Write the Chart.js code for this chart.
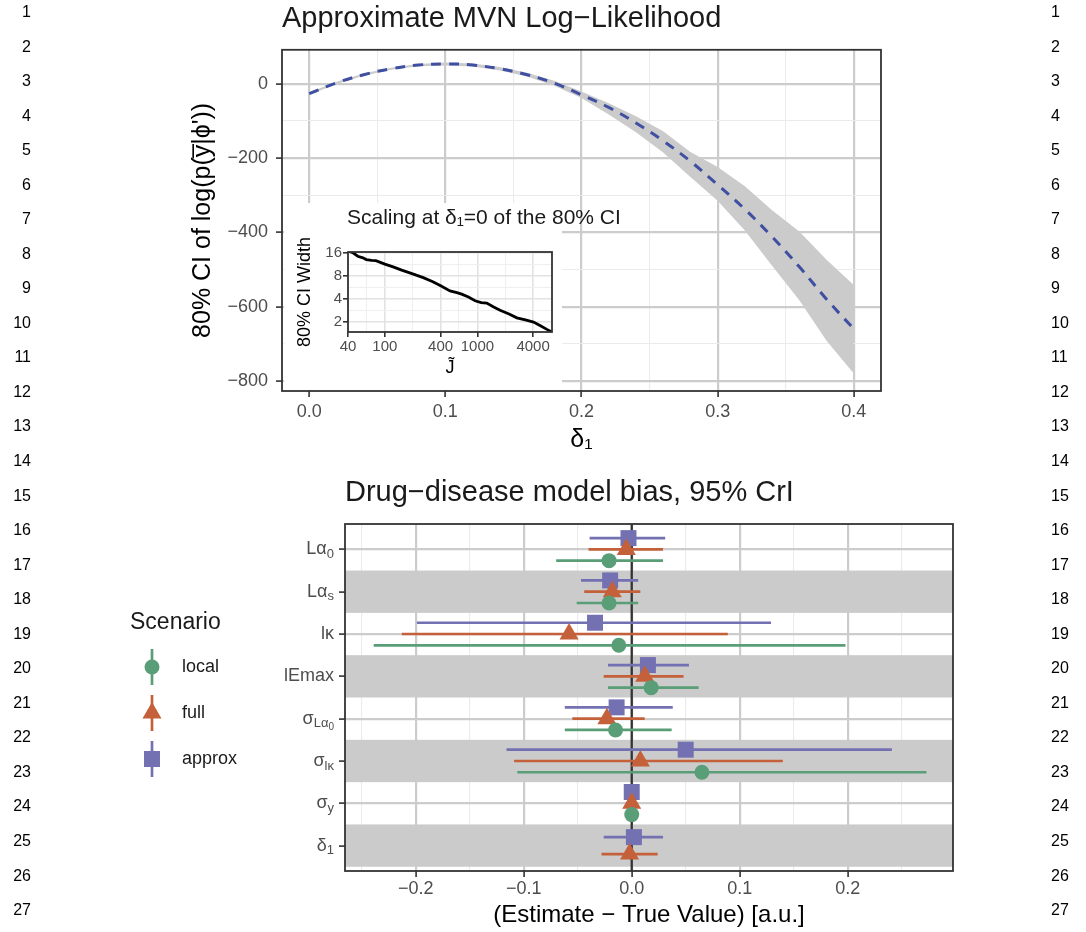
<!DOCTYPE html>
<html>
<head>
<meta charset="utf-8">
<title>MVN log-likelihood and drug-disease model bias</title>
<script src="https://cdn.jsdelivr.net/npm/chart.js@4.4.1/dist/chart.umd.min.js"></script>
<style>
  html, body { margin: 0; padding: 0; background: #ffffff; }
  #page { position: relative; width: 1086px; height: 932px; overflow: hidden; font-family: "Liberation Sans", Arial, Helvetica, sans-serif; }
  .ln { position: absolute; font-size: 16px; line-height: 16px; color: #000000; }
  .ln.left { left: 0; width: 31px; text-align: right; }
  .ln.right { left: 1051px; }
  .wrap { position: absolute; }
  #topWrap { left: 0; top: 0; width: 1086px; height: 460px; }
  #insetWrap { left: 284px; top: 200px; width: 360px; height: 190px; }
  #bottomWrap { left: 0; top: 460px; width: 1086px; height: 472px; }
</style>
</head>
<body>
<div id="page">
  <div id="topWrap" class="wrap"><canvas id="llChart" width="1086" height="460"></canvas></div>
  <div id="insetWrap" class="wrap"><canvas id="insetChart" width="360" height="190"></canvas></div>
  <div id="bottomWrap" class="wrap"><canvas id="biasChart" width="1086" height="472"></canvas></div>
</div>
<script>
'use strict';

// ---- top panel: approximate MVN log-likelihood over delta_1 ----
const deltaGrid = [0, 0.02, 0.04, 0.06, 0.08, 0.1, 0.12, 0.14, 0.16, 0.18, 0.2, 0.22, 0.24, 0.26, 0.28, 0.3, 0.32, 0.34, 0.36, 0.38, 0.4];
const llMean = [-27, 2, 24, 40, 50, 53, 50, 40, 24, 1, -30, -64, -106, -154, -209, -272, -338, -412, -493, -580, -660];
const llUpper = [-24, 5, 27, 43, 53, 57, 54, 45, 29, 8, -21, -53, -88, -128, -184, -224, -276, -341, -398, -474, -542];
const llLower = [-30, -1, 21, 37, 47, 49, 46, 35, 19, -6, -39, -83, -131, -185, -251, -315, -395, -490, -583, -692, -780];
const topXTicks = [0, 0.1, 0.2, 0.3, 0.4];
const topXMinor = [0.05, 0.15, 0.25, 0.35];
const topYTicks = [-800, -600, -400, -200, 0];
const topYMinor = [-700, -500, -300, -100];

// ---- inset: CI width at delta_1 = 0 against J ----
const insetJ = [40, 45, 51, 58, 63, 72, 80, 100, 125, 152, 200, 260, 330, 401, 506, 600, 676, 800, 944, 1100, 1262, 1500, 1758, 2200, 2667, 3300, 4036, 4800, 5633, 6400];
const insetWidth = [17.0, 16.2, 14.5, 13.8, 13.1, 12.8, 12.7, 11.4, 10.4, 9.5, 8.5, 7.57, 6.7, 5.9, 5.06, 4.8, 4.58, 4.2, 3.75, 3.55, 3.49, 3.1, 2.8, 2.5, 2.23, 2.1, 1.96, 1.75, 1.57, 1.45];
const insetXTicks = [40, 100, 400, 1000, 4000];
const insetXMinor = [63.2, 200, 632, 2000];
const insetYTicks = [2, 4, 8, 16];
const insetYMinor = [2.83, 5.66, 11.3];

// ---- bottom panel: bias with 95% CrI per parameter ----
const parameterLabels = [
  [['L\u03b1', 0], ['0', 1]],
  [['L\u03b1', 0], ['s', 1]],
  [['l\u03ba', 0]],
  [['lEmax', 0]],
  [['\u03c3', 0], ['L\u03b1', 1], ['0', 2]],
  [['\u03c3', 0], ['l\u03ba', 1]],
  [['\u03c3', 0], ['y', 1]],
  [['\u03b4', 0], ['1', 1]]
];
const scenarios = ['local', 'full', 'approx'];
const localEst = [-0.021, -0.021, -0.012, 0.018, -0.015, 0.065, 0.000, null];
const localLow = [-0.070, -0.051, -0.239, -0.022, -0.062, -0.106, -0.002, null];
const localHigh = [0.029, 0.006, 0.198, 0.062, 0.037, 0.273, 0.002, null];
const fullEst = [-0.005, -0.018, -0.058, 0.012, -0.023, 0.008, 0.000, -0.002];
const fullLow = [-0.040, -0.044, -0.213, -0.026, -0.055, -0.109, -0.002, -0.028];
const fullHigh = [0.029, 0.008, 0.089, 0.048, 0.012, 0.140, 0.002, 0.024];
const approxEst = [-0.003, -0.020, -0.034, 0.015, -0.014, 0.050, 0.000, 0.002];
const approxLow = [-0.039, -0.047, -0.199, -0.022, -0.062, -0.116, -0.002, -0.026];
const approxHigh = [0.031, 0.006, 0.129, 0.053, 0.038, 0.241, 0.002, 0.029];
const biasXTicks = [-0.2, -0.1, 0, 0.1, 0.2];
const biasXMinor = [-0.25, -0.15, -0.05, 0.05, 0.15, 0.25];

{
  const FONT = '"Liberation Sans", Arial, Helvetica, sans-serif';
  const TICK_TEXT = '#4d4d4d';
  const TITLE_TEXT = '#1a1a1a';

  Chart.defaults.font.family = FONT;

  const scenarioStyles = {
    local: { color: '#5a9e78', pointStyle: 'circle', radius: 7.5 },
    full: { color: '#c5613a', pointStyle: 'triangle', radius: 11 },
    approx: { color: '#7471b2', pointStyle: 'rect', radius: 11.3 }
  };

  const series = {
    local: { est: localEst, low: localLow, high: localHigh },
    full: { est: fullEst, low: fullLow, high: fullHigh },
    approx: { est: approxEst, low: approxLow, high: approxHigh }
  };

  const minusSign = function(text){
    return String(text).replace('-', '\u2212');
  };

  const allTicks = function(major, minor){
    return major.concat(minor).sort(function(a, b){ return a - b; }).map(function(v){ return { value: v }; });
  };

  const gridStyle = function(major, majorColor, minorColor, majorWidth, minorWidth, tickLength){
    const isMajor = function(ctx){ return ctx.tick && major.includes(ctx.tick.value); };
    return {
      color: function(ctx){ return isMajor(ctx) ? majorColor : minorColor; },
      lineWidth: function(ctx){ return isMajor(ctx) ? majorWidth : minorWidth; },
      tickColor: function(ctx){ return isMajor(ctx) ? '#333333' : 'rgba(0,0,0,0)'; },
      tickWidth: 1.6,
      tickLength: tickLength
    };
  };

  // dark border round the panel, like panel.border in ggplot
  const panelFrame = {
    id: 'panelFrame',
    afterDatasetsDraw(chart, args, opts){
      const area = chart.chartArea;
      const ctx = chart.ctx;
      ctx.save();
      ctx.strokeStyle = '#333333';
      ctx.lineWidth = opts.width || 1.8;
      ctx.strokeRect(area.left, area.top, area.right - area.left, area.bottom - area.top);
      ctx.restore();
    }
  };

  // white background of the inset, plus its title (free to run past the panel)
  const insetDecor = {
    id: 'insetDecor',
    beforeDraw(chart, args, opts){
      const ctx = chart.ctx;
      ctx.save();
      ctx.fillStyle = '#ffffff';
      ctx.fillRect(opts.x, opts.y, opts.w, opts.h);
      ctx.restore();
    },
    afterDraw(chart, args, opts){
      const ctx = chart.ctx;
      ctx.save();
      ctx.fillStyle = TITLE_TEXT;
      ctx.font = '21px ' + FONT;
      ctx.textAlign = 'left';
      ctx.textBaseline = 'middle';
      ctx.fillText(opts.title, chart.chartArea.left - 1, opts.titleY);
      ctx.restore();
    }
  };

  // grey stripes behind every second parameter row
  const rowBands = {
    id: 'rowBands',
    beforeDatasetsDraw(chart, args, opts){
      const yScale = chart.scales.y;
      const area = chart.chartArea;
      const ctx = chart.ctx;
      ctx.save();
      ctx.fillStyle = opts.color;
      for(let i = 1; i < parameterLabels.length; i += 2){
        const y1 = yScale.getPixelForValue(i - 0.5);
        const y2 = yScale.getPixelForValue(i + 0.5);
        ctx.fillRect(area.left, y1, area.right - area.left, y2 - y1);
      }
      ctx.restore();
    }
  };

  // tick labels with subscripts (sigma_{L alpha_0} etc.)
  const richYLabels = {
    id: 'richYLabels',
    afterDraw(chart){
      const yScale = chart.scales.y;
      const ctx = chart.ctx;
      const sizes = [18, 13, 10];
      const shifts = [0, 5, 9];
      const xRight = chart.chartArea.left - 11;
      ctx.save();
      ctx.fillStyle = TICK_TEXT;
      ctx.textBaseline = 'middle';
      ctx.textAlign = 'left';
      parameterLabels.forEach(function(parts, i){
        let width = 0;
        parts.forEach(function(part){
          ctx.font = sizes[part[1]] + 'px ' + FONT;
          width += ctx.measureText(part[0]).width;
        });
        let x = xRight - width;
        const y = yScale.getPixelForValue(i);
        parts.forEach(function(part){
          ctx.font = sizes[part[1]] + 'px ' + FONT;
          ctx.fillText(part[0], x, y + shifts[part[1]]);
          x += ctx.measureText(part[0]).width;
        });
      });
      ctx.restore();
    }
  };

  const drawMarker = function(ctx, style, x, y){
    ctx.fillStyle = style.color;
    if(Chart.helpers && Chart.helpers.drawPoint){
      Chart.helpers.drawPoint(ctx, { pointStyle: style.pointStyle, radius: style.radius, rotation: 0, borderWidth: 0 }, x, y);
    } else {
      ctx.beginPath();
      ctx.arc(x, y, style.radius, 0, Math.PI * 2);
      ctx.fill();
    }
  };

  const scenarioLegend = {
    id: 'scenarioLegend',
    afterDraw(chart, args, opts){
      const ctx = chart.ctx;
      ctx.save();
      ctx.textBaseline = 'middle';
      ctx.textAlign = 'left';
      ctx.fillStyle = TITLE_TEXT;
      ctx.font = '23px ' + FONT;
      ctx.fillText('Scenario', opts.x, opts.titleY);
      scenarios.forEach(function(scenario, i){
        const style = scenarioStyles[scenario];
        const y = opts.firstY + i * opts.step;
        ctx.strokeStyle = style.color;
        ctx.lineWidth = 2.7;
        ctx.beginPath();
        ctx.moveTo(opts.iconX, y - 18);
        ctx.lineTo(opts.iconX, y + 18);
        ctx.stroke();
        drawMarker(ctx, style, opts.iconX, y);
        ctx.fillStyle = TITLE_TEXT;
        ctx.font = '18px ' + FONT;
        ctx.fillText(scenario, opts.textX, y);
      });
      ctx.restore();
    }
  };

  const lineNumbers = function(){
    const page = document.getElementById('page');
    for(let n = 1; n <= 27; n++){
      const y = 12 + (n - 1) * 34.54 - 8;
      ['left', 'right'].forEach(function(side){
        const el = document.createElement('div');
        el.className = 'ln ' + side;
        el.style.top = y + 'px';
        el.textContent = String(n);
        page.appendChild(el);
      });
    }
  };

  lineNumbers();

  const initTopChart = function(){
    const toPoints = function(values){
      return deltaGrid.map(function(d, i){ return { x: d, y: values[i] }; });
    };

    // eslint-disable-next-line no-unused-vars
    const llChart = new Chart(document.getElementById('llChart'), {
      type: 'line',
      data: {
        datasets: [
          {
            label: 'upper',
            data: toPoints(llUpper),
            borderWidth: 0,
            borderColor: 'rgba(0,0,0,0)',
            backgroundColor: '#cbcbcb',
            pointRadius: 0,
            fill: '+1',
            order: 1
          },
          {
            label: 'lower',
            data: toPoints(llLower),
            borderWidth: 0,
            borderColor: 'rgba(0,0,0,0)',
            pointRadius: 0,
            fill: false,
            order: 2
          },
          {
            label: 'mean',
            data: toPoints(llMean),
            borderColor: '#3f4fa1',
            borderWidth: 3,
            borderDash: [10, 8],
            pointRadius: 0,
            fill: false,
            tension: 0.4,
            order: 0
          }
        ]
      },
      options: {
        responsive: false,
        animation: false,
        events: [],
        layout: { padding: { left: 182, right: 205, top: 0, bottom: 0 } },
        plugins: {
          legend: { display: false },
          tooltip: { enabled: false },
          title: {
            display: true,
            text: 'Approximate MVN Log\u2212Likelihood',
            align: 'start',
            fullSize: false,
            color: TITLE_TEXT,
            font: { size: 29, weight: 'normal', lineHeight: 1.2 },
            padding: { top: 2, bottom: 13 }
          },
          panelFrame: { width: 1.8 }
        },
        scales: {
          x: {
            type: 'linear',
            min: -0.02,
            max: 0.42,
            afterBuildTicks: function(scale){ scale.ticks = allTicks(topXTicks, topXMinor); },
            afterFit: function(scale){ scale.height = 69; },
            border: { display: false },
            grid: gridStyle(topXTicks, '#cccccc', '#ebebeb', 2.2, 1.1, 6),
            ticks: {
              autoSkip: false,
              maxRotation: 0,
              padding: 4,
              color: TICK_TEXT,
              font: { size: 18 },
              callback: function(v){ return topXTicks.includes(v) ? minusSign(v.toFixed(1)) : ''; }
            },
            title: {
              display: true,
              text: '\u03b4\u2081',
              color: '#000000',
              font: { size: 25, lineHeight: 1.2 },
              padding: { top: 0, bottom: 5 }
            }
          },
          y: {
            type: 'linear',
            min: -827,
            max: 91,
            afterBuildTicks: function(scale){ scale.ticks = allTicks(topYTicks, topYMinor); },
            afterFit: function(scale){ scale.width = 100; },
            border: { display: false },
            grid: gridStyle(topYTicks, '#cccccc', '#ebebeb', 2.2, 1.1, 6),
            ticks: {
              autoSkip: false,
              padding: 8,
              color: TICK_TEXT,
              font: { size: 18 },
              callback: function(v){ return topYTicks.includes(v) ? minusSign(v) : ''; }
            },
            title: {
              display: true,
              text: '80% CI of log(p(y\u0305|\u03d5\'))',
              color: '#000000',
              font: { size: 25, lineHeight: 1.2 },
              padding: { top: 6, bottom: 0 }
            }
          }
        }
      },
      plugins: [panelFrame]
    });
  };

  initTopChart();

  const initInset = function(){
    // eslint-disable-next-line no-unused-vars
    const insetChart = new Chart(document.getElementById('insetChart'), {
      type: 'line',
      data: {
        datasets: [
          {
            label: 'CI width',
            data: insetJ.map(function(j, i){ return { x: j, y: insetWidth[i] }; }),
            borderColor: '#000000',
            borderWidth: 2.8,
            pointRadius: 0,
            fill: false
          }
        ]
      },
      options: {
        responsive: false,
        animation: false,
        events: [],
        layout: { padding: { left: 0, right: 92, top: 52, bottom: 0 } },
        plugins: {
          legend: { display: false },
          tooltip: { enabled: false },
          insetDecor: { x: 0, y: 3, w: 278, h: 187, title: 'Scaling at \u03b4\u2081=0 of the 80% CI', titleY: 18 },
          panelFrame: { width: 1.8 }
        },
        scales: {
          x: {
            type: 'logarithmic',
            min: 40,
            max: 6400,
            afterBuildTicks: function(scale){ scale.ticks = allTicks(insetXTicks, insetXMinor); },
            afterFit: function(scale){ scale.height = 58; },
            border: { display: false },
            grid: gridStyle(insetXTicks, '#e2e2e2', '#efefef', 1.6, 1, 5),
            ticks: {
              autoSkip: false,
              maxRotation: 0,
              padding: 1,
              color: TICK_TEXT,
              font: { size: 15 },
              callback: function(v){ return insetXTicks.includes(v) ? String(v) : ''; }
            },
            title: {
              display: true,
              text: 'J\u0303',
              color: '#000000',
              font: { size: 18, lineHeight: 1.2 },
              padding: { top: 0, bottom: 11 }
            }
          },
          y: {
            type: 'logarithmic',
            min: 1.45,
            max: 16.5,
            afterBuildTicks: function(scale){ scale.ticks = allTicks(insetYTicks, insetYMinor); },
            afterFit: function(scale){ scale.width = 64; },
            border: { display: false },
            grid: gridStyle(insetYTicks, '#e2e2e2', '#efefef', 1.6, 1, 5),
            ticks: {
              autoSkip: false,
              padding: 1,
              color: TICK_TEXT,
              font: { size: 15 },
              callback: function(v){ return insetYTicks.includes(v) ? String(v) : ''; }
            },
            title: {
              display: true,
              text: '80% CI Width',
              color: '#000000',
              font: { size: 18, lineHeight: 1.2 },
              padding: { top: 10, bottom: 0 }
            }
          }
        }
      },
      plugins: [insetDecor, panelFrame]
    });
  };

  initInset();

  const initBiasChart = function(){
    // position_dodge: groups present in a row share 0.8 of the row height
    const dodgeOrder = ['approx', 'full', 'local'];
    const rowOffset = function(row, scenario){
      const present = dodgeOrder.filter(function(s){ return series[s].est[row] !== null; });
      const slot = 0.8 / present.length;
      return -0.4 + slot * (present.indexOf(scenario) + 0.5);
    };

    const rangeData = function(scenario){
      const data = [];
      series[scenario].est.forEach(function(est, row){
        if(est === null){ return; }
        const y = row + rowOffset(row, scenario);
        data.push({ x: series[scenario].low[row], y: y });
        data.push({ x: series[scenario].high[row], y: y });
        data.push({ x: series[scenario].high[row], y: null });
      });
      return data;
    };

    const pointData = function(scenario){
      const data = [];
      series[scenario].est.forEach(function(est, row){
        if(est === null){ return; }
        data.push({ x: est, y: row + rowOffset(row, scenario) });
      });
      return data;
    };

    const datasets = [
      {
        label: 'zero',
        data: [{ x: 0, y: -0.6 }, { x: 0, y: parameterLabels.length - 0.4 }],
        borderColor: '#333333',
        borderWidth: 2.3,
        pointRadius: 0,
        order: 20
      }
    ];

    const drawOrder = { approx: 3, full: 2, local: 1 };
    scenarios.forEach(function(scenario){
      const style = scenarioStyles[scenario];
      datasets.push({
        label: scenario + ' CrI',
        data: rangeData(scenario),
        borderColor: style.color,
        borderWidth: 2.7,
        pointRadius: 0,
        spanGaps: false,
        order: 10 + drawOrder[scenario]
      });
      datasets.push({
        label: scenario,
        data: pointData(scenario),
        showLine: false,
        pointStyle: style.pointStyle,
        pointRadius: style.radius,
        pointBackgroundColor: style.color,
        pointBorderWidth: 0,
        order: drawOrder[scenario]
      });
    });

    // eslint-disable-next-line no-unused-vars
    const biasChart = new Chart(document.getElementById('biasChart'), {
      type: 'line',
      data: { datasets: datasets },
      options: {
        responsive: false,
        animation: false,
        events: [],
        layout: { padding: { left: 265, right: 133, top: 0, bottom: 0 } },
        plugins: {
          legend: { display: false },
          tooltip: { enabled: false },
          title: {
            display: true,
            text: 'Drug\u2212disease model bias, 95% CrI',
            align: 'start',
            fullSize: false,
            color: TITLE_TEXT,
            font: { size: 29, weight: 'normal', lineHeight: 1.2 },
            padding: { top: 15.6, bottom: 13.6 }
          },
          rowBands: { color: '#cbcbcb' },
          panelFrame: { width: 1.8 },
          scenarioLegend: { x: 130, titleY: 163, firstY: 207, step: 46, iconX: 152, textX: 182 }
        },
        scales: {
          x: {
            type: 'linear',
            min: -0.2656,
            max: 0.2976,
            afterBuildTicks: function(scale){ scale.ticks = allTicks(biasXTicks, biasXMinor); },
            afterFit: function(scale){ scale.height = 61; },
            border: { display: false },
            grid: gridStyle(biasXTicks, '#cccccc', '#ebebeb', 2.2, 1.1, 6),
            ticks: {
              autoSkip: false,
              maxRotation: 0,
              padding: 1.5,
              color: TICK_TEXT,
              font: { size: 18 },
              callback: function(v){ return biasXTicks.includes(v) ? minusSign(v.toFixed(1)) : ''; }
            },
            title: {
              display: true,
              text: '(Estimate \u2212 True Value) [a.u.]',
              color: '#000000',
              font: { size: 24, lineHeight: 1.2 },
              padding: { top: 0, bottom: 2.6 }
            }
          },
          y: {
            type: 'linear',
            reverse: true,
            min: -0.6,
            max: parameterLabels.length - 0.4,
            afterBuildTicks: function(scale){
              scale.ticks = parameterLabels.map(function(p, i){ return { value: i }; });
            },
            afterFit: function(scale){ scale.width = 80; },
            border: { display: false },
            grid: {
              color: '#cccccc',
              lineWidth: 2.2,
              tickColor: '#333333',
              tickWidth: 1.6,
              tickLength: 6
            },
            ticks: { display: false }
          }
        }
      },
      plugins: [rowBands, panelFrame, richYLabels, scenarioLegend]
    });
  };

  initBiasChart();
}
</script>
</body>
</html>
